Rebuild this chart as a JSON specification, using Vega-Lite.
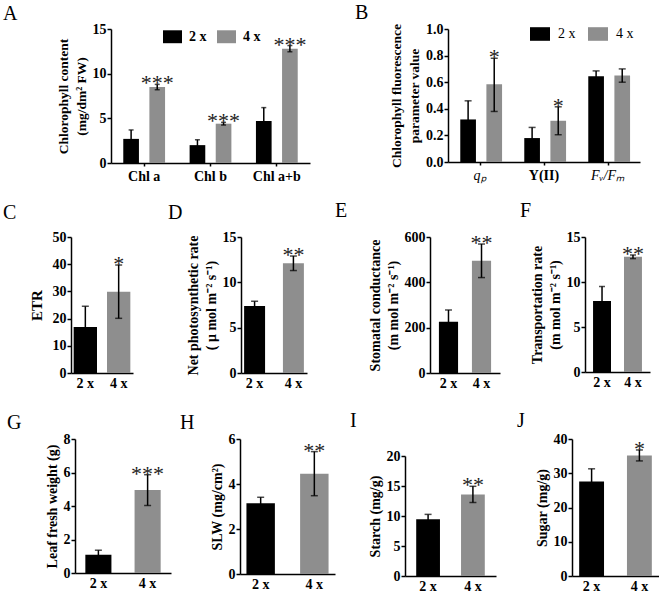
{
  "$schema": "https://vega.github.io/schema/vega-lite/v6.json",
  "padding": {"left": 2, "top": 3, "right": 0, "bottom": 0},
  "background": "white",
  "datasets": {
    "d": [
      {"panel": "A", "cat": "Chl a", "g": "2 x", "v": 2.7, "lo": 1.7, "hi": 3.7, "star": ""},
      {"panel": "A", "cat": "Chl a", "g": "4 x", "v": 8.5, "lo": 8.2, "hi": 8.8, "star": "***"},
      {"panel": "A", "cat": "Chl b", "g": "2 x", "v": 2.0, "lo": 1.4, "hi": 2.6, "star": ""},
      {"panel": "A", "cat": "Chl b", "g": "4 x", "v": 4.4, "lo": 4.25, "hi": 4.55, "star": "***"},
      {"panel": "A", "cat": "Chl a+b", "g": "2 x", "v": 4.7, "lo": 3.2, "hi": 6.2, "star": ""},
      {"panel": "A", "cat": "Chl a+b", "g": "4 x", "v": 12.8, "lo": 12.45, "hi": 13.15, "star": "***"},
      {"panel": "B", "cat": "qₚ", "g": "2 x", "v": 0.32, "lo": 0.18, "hi": 0.46, "star": ""},
      {"panel": "B", "cat": "qₚ", "g": "4 x", "v": 0.585, "lo": 0.38, "hi": 0.78, "star": "*"},
      {"panel": "B", "cat": "Y(II)", "g": "2 x", "v": 0.18, "lo": 0.1, "hi": 0.26, "star": ""},
      {"panel": "B", "cat": "Y(II)", "g": "4 x", "v": 0.31, "lo": 0.205, "hi": 0.415, "star": "*"},
      {"panel": "B", "cat": "Fᵥ/Fₘ", "g": "2 x", "v": 0.645, "lo": 0.605, "hi": 0.685, "star": ""},
      {"panel": "B", "cat": "Fᵥ/Fₘ", "g": "4 x", "v": 0.65, "lo": 0.6, "hi": 0.7, "star": ""},
      {"panel": "C", "g": "2 x", "v": 16.9, "lo": 9.3, "hi": 24.5, "star": ""},
      {"panel": "C", "g": "4 x", "v": 29.9, "lo": 20.1, "hi": 39.7, "star": "*"},
      {"panel": "D", "g": "2 x", "v": 7.4, "lo": 6.9, "hi": 7.9, "star": ""},
      {"panel": "D", "g": "4 x", "v": 12.1, "lo": 11.3, "hi": 12.9, "star": "**"},
      {"panel": "E", "g": "2 x", "v": 226, "lo": 174, "hi": 278, "star": ""},
      {"panel": "E", "g": "4 x", "v": 495, "lo": 421, "hi": 569, "star": "**"},
      {"panel": "F", "g": "2 x", "v": 7.9, "lo": 6.3, "hi": 9.5, "star": ""},
      {"panel": "F", "g": "4 x", "v": 12.8, "lo": 12.6, "hi": 13.0, "star": "**"},
      {"panel": "G", "g": "2 x", "v": 1.09, "lo": 0.82, "hi": 1.36, "star": ""},
      {"panel": "G", "g": "4 x", "v": 4.95, "lo": 4.03, "hi": 5.87, "star": "***"},
      {"panel": "H", "g": "2 x", "v": 3.15, "lo": 2.89, "hi": 3.41, "star": ""},
      {"panel": "H", "g": "4 x", "v": 4.46, "lo": 3.48, "hi": 5.44, "star": "**"},
      {"panel": "I", "g": "2 x", "v": 9.47, "lo": 8.67, "hi": 10.27, "star": ""},
      {"panel": "I", "g": "4 x", "v": 13.6, "lo": 12.25, "hi": 14.95, "star": "**"},
      {"panel": "J", "g": "2 x", "v": 27.6, "lo": 23.9, "hi": 31.3, "star": ""},
      {"panel": "J", "g": "4 x", "v": 35.2, "lo": 33.6, "hi": 36.8, "star": "*"}
    ]
  },
  "data": {"name": "d"},
  "config": {
    "font": "Liberation Serif",
    "view": {"stroke": null},
    "axis": {
      "grid": false,
      "domainColor": "#000", "domainWidth": 1.5,
      "tickColor": "#000", "tickWidth": 1.5,
      "labelFont": "Liberation Serif", "labelFontWeight": "bold", "labelFontSize": 14, "labelColor": "#000",
      "titleFont": "Liberation Serif", "titleFontWeight": "bold", "titleFontSize": 14, "titleColor": "#000"
    },
    "axisY": {"tickSize": 4, "labelPadding": 1, "titlePadding": 4, "titleLineHeight": 18, "labelOverlap": false, "labelFlush": false},
    "axisX": {"ticks": false, "labelAngle": 0, "labelPadding": 3, "title": null},
    "title": {"font": "Liberation Serif", "fontSize": 20, "fontWeight": "normal", "anchor": "start", "frame": "group", "color": "#000"},
    "legend": {"labelFont": "Liberation Serif", "labelColor": "#000", "labelFontSize": 14}
  },
  "columns": 1,
  "resolve": {"scale": {"color": "independent", "x": "independent", "y": "independent"}, "legend": {"color": "independent"}},
  "spacing": 18,
  "concat": [
    {
      "columns": 2, "spacing": 0,
      "resolve": {"scale": {"color": "independent"}, "legend": {"color": "independent"}},
      "concat": [
        {"width": 1, "height": 1, "data": {"values": []}, "mark": "point"},
        {
          "columns": 2,
          "spacing": 45,
          "resolve": {"scale": {"color": "independent"}, "legend": {"color": "independent"}},
          "concat": [
            {
              "width": 199, "height": 134,
              "title": {"text": "A", "dx": -108, "offset": -2},
              "transform": [{"filter": "datum.panel === 'A'"}],
              "encoding": {
                "x": {"field": "cat", "type": "nominal", "sort": ["Chl a", "Chl b", "Chl a+b"], "scale": {"paddingInner": 0, "paddingOuter": 0}, "axis": {"title": null, "ticks": true, "tickSize": 3}},
                "xOffset": {"field": "g", "type": "nominal", "sort": ["2 x", "4 x"], "scale": {"paddingInner": 0.4, "paddingOuter": 0.47}}
              },
              "layer": [
                {"mark": {"type": "bar"}, "encoding": {
                  "y": {"field": "v", "type": "quantitative", "scale": {"domain": [0, 15], "nice": false}, "axis": {"values": [0, 5, 10, 15], "title": ["Chlorophyll content", "(mg/dm² FW)"], "titleFontSize": 13.5}},
                  "color": {"field": "g", "type": "nominal", "scale": {"domain": ["2 x", "4 x"], "range": ["#000000", "#8e8e8e"]},
                    "legend": {"orient": "none", "legendX": 52, "legendY": -2, "direction": "horizontal", "title": null, "symbolType": "M-1,-0.68H1V0.68H-1Z", "symbolSize": 361, "symbolStrokeWidth": 0, "labelFontWeight": "bold", "labelOffset": 7, "columnPadding": 10}}
                }},
                {"mark": {"type": "rule", "color": "#000", "strokeWidth": 1.5}, "encoding": {"y": {"field": "lo", "type": "quantitative", "axis": {"values": [0, 5, 10, 15], "title": ["Chlorophyll content", "(mg/dm² FW)"], "titleFontSize": 13.5}}, "y2": {"field": "hi"}}},
                {"mark": {"type": "tick", "color": "#000", "size": 5, "thickness": 1.5}, "encoding": {"y": {"field": "hi", "type": "quantitative", "axis": {"values": [0, 5, 10, 15], "title": ["Chlorophyll content", "(mg/dm² FW)"], "titleFontSize": 13.5}}}},
                {"mark": {"type": "tick", "color": "#000", "size": 5, "thickness": 1.5}, "encoding": {"y": {"field": "lo", "type": "quantitative", "axis": {"values": [0, 5, 10, 15], "title": ["Chlorophyll content", "(mg/dm² FW)"], "titleFontSize": 13.5}}}},
                {"mark": {"type": "text", "fontSize": 22, "baseline": "alphabetic", "dy": 6, "fill": "#222", "color": "#222"}, "encoding": {"y": {"field": "hi", "type": "quantitative", "axis": {"values": [0, 5, 10, 15], "title": ["Chlorophyll content", "(mg/dm² FW)"], "titleFontSize": 13.5}}, "text": {"field": "star"}}}
              ]
            },
            {
              "width": 192, "height": 133,
              "title": {"text": "B", "dx": -93, "offset": -1},
              "transform": [{"filter": "datum.panel === 'B'"}],
              "encoding": {
                "x": {"field": "cat", "type": "nominal", "sort": ["qₚ", "Y(II)", "Fᵥ/Fₘ"], "scale": {"paddingInner": 0, "paddingOuter": 0},
                  "axis": {"title": null, "ticks": true, "tickSize": 3,
                    "labelFontStyle": {"condition": {"test": "datum.value === 'Y(II)'", "value": "normal"}, "value": "italic"},
                    "labelFontWeight": {"condition": {"test": "datum.value === 'Y(II)'", "value": "bold"}, "value": "normal"}}},
                "xOffset": {"field": "g", "type": "nominal", "sort": ["2 x", "4 x"], "scale": {"paddingInner": 0.27, "paddingOuter": 0.37}}
              },
              "layer": [
                {"mark": {"type": "bar"}, "encoding": {
                  "y": {"field": "v", "type": "quantitative", "scale": {"domain": [0, 1], "nice": false}, "axis": {"values": [0, 0.2, 0.4, 0.6, 0.8, 1.0], "format": ".1f", "title": ["Chlorophyll fluorescence", "parameter value"], "titleFontSize": 13.5}},
                  "color": {"field": "g", "type": "nominal", "scale": {"domain": ["2 x", "4 x"], "range": ["#000000", "#8e8e8e"]},
                    "legend": {"orient": "none", "legendX": 82, "legendY": -5, "direction": "horizontal", "title": null, "symbolType": "M-1,-0.68H1V0.68H-1Z", "symbolSize": 400, "symbolStrokeWidth": 0, "labelFontWeight": "normal", "labelOffset": 8, "columnPadding": 12}}
                }},
                {"mark": {"type": "rule", "color": "#000", "strokeWidth": 1.5}, "encoding": {"y": {"field": "lo", "type": "quantitative", "axis": {"values": [0, 0.2, 0.4, 0.6, 0.8, 1.0], "format": ".1f", "title": ["Chlorophyll fluorescence", "parameter value"], "titleFontSize": 13.5}}, "y2": {"field": "hi"}}},
                {"mark": {"type": "tick", "color": "#000", "size": 7, "thickness": 1.5}, "encoding": {"y": {"field": "hi", "type": "quantitative", "axis": {"values": [0, 0.2, 0.4, 0.6, 0.8, 1.0], "format": ".1f", "title": ["Chlorophyll fluorescence", "parameter value"], "titleFontSize": 13.5}}}},
                {"mark": {"type": "tick", "color": "#000", "size": 7, "thickness": 1.5}, "encoding": {"y": {"field": "lo", "type": "quantitative", "axis": {"values": [0, 0.2, 0.4, 0.6, 0.8, 1.0], "format": ".1f", "title": ["Chlorophyll fluorescence", "parameter value"], "titleFontSize": 13.5}}}},
                {"mark": {"type": "text", "fontSize": 22, "baseline": "alphabetic", "dy": 6, "fill": "#222", "color": "#222"}, "encoding": {"y": {"field": "hi", "type": "quantitative", "axis": {"values": [0, 0.2, 0.4, 0.6, 0.8, 1.0], "format": ".1f", "title": ["Chlorophyll fluorescence", "parameter value"], "titleFontSize": 13.5}}, "text": {"field": "star"}}}
              ]
            }
          ]
        }
      ]
    },
    {
      "columns": 1, "spacing": 21,
      "resolve": {"scale": {"color": "independent"}, "legend": {"color": "independent"}},
      "concat": [
        {
          "columns": 2, "spacing": 0,
          "resolve": {"scale": {"color": "independent"}, "legend": {"color": "independent"}},
          "concat": [
            {"width": 1, "height": 1, "data": {"values": []}, "mark": "point"},
            {
              "columns": 2,
              "spacing": 28,
              "resolve": {"scale": {"color": "independent"}, "legend": {"color": "independent"}},
              "concat": [
                {
                  "columns": 2,
                  "spacing": 35,
                  "resolve": {"scale": {"color": "independent"}, "legend": {"color": "independent"}},
                  "concat": [
                    {
                      "width": 62, "height": 136,
                      "title": {"text": "C", "dx": -68, "offset": 7},
                      "transform": [{"filter": "datum.panel === 'C'"}],
                      "encoding": {"x": {"field": "g", "type": "nominal", "sort": ["2 x", "4 x"], "scale": {"paddingInner": 0.3, "paddingOuter": 0.08}, "axis": {"title": null}}},
                      "layer": [
                        {"mark": {"type": "bar"}, "encoding": {
                          "y": {"field": "v", "type": "quantitative", "scale": {"domain": [0, 50], "nice": false}, "axis": {"values": [0, 10, 20, 30, 40, 50], "title": "ETR", "titleFontSize": 15, "titlePadding": 8}},
                          "color": {"field": "g", "type": "nominal", "scale": {"domain": ["2 x", "4 x"], "range": ["#000000", "#8e8e8e"]}, "legend": null}}},
                        {"mark": {"type": "rule", "color": "#000", "strokeWidth": 1.5}, "encoding": {"y": {"field": "lo", "type": "quantitative", "axis": {"values": [0, 10, 20, 30, 40, 50], "title": "ETR", "titleFontSize": 15, "titlePadding": 8}}, "y2": {"field": "hi"}}},
                        {"mark": {"type": "tick", "color": "#000", "size": 7, "thickness": 1.5}, "encoding": {"y": {"field": "hi", "type": "quantitative", "axis": {"values": [0, 10, 20, 30, 40, 50], "title": "ETR", "titleFontSize": 15, "titlePadding": 8}}}},
                        {"mark": {"type": "tick", "color": "#000", "size": 7, "thickness": 1.5}, "encoding": {"y": {"field": "lo", "type": "quantitative", "axis": {"values": [0, 10, 20, 30, 40, 50], "title": "ETR", "titleFontSize": 15, "titlePadding": 8}}}},
                        {"mark": {"type": "text", "fontSize": 22, "baseline": "alphabetic", "dy": 6, "fill": "#222", "color": "#222"}, "encoding": {"y": {"field": "hi", "type": "quantitative", "axis": {"values": [0, 10, 20, 30, 40, 50], "title": "ETR", "titleFontSize": 15, "titlePadding": 8}}, "text": {"field": "star"}}}
                      ]
                    },
                    {
                      "width": 66, "height": 136,
                      "title": {"text": "D", "dx": -73, "offset": 7},
                      "transform": [{"filter": "datum.panel === 'D'"}],
                      "encoding": {"x": {"field": "g", "type": "nominal", "sort": ["2 x", "4 x"], "scale": {"paddingInner": 0.46, "paddingOuter": 0.08}, "axis": {"title": null}}},
                      "layer": [
                        {"mark": {"type": "bar"}, "encoding": {
                          "y": {"field": "v", "type": "quantitative", "scale": {"domain": [0, 15], "nice": false}, "axis": {"values": [0, 5, 10, 15], "title": ["Net photosynthetic rate", "( μ mol m⁻² s⁻¹)"]}},
                          "color": {"field": "g", "type": "nominal", "scale": {"domain": ["2 x", "4 x"], "range": ["#000000", "#8e8e8e"]}, "legend": null}}},
                        {"mark": {"type": "rule", "color": "#000", "strokeWidth": 1.5}, "encoding": {"y": {"field": "lo", "type": "quantitative", "axis": {"values": [0, 5, 10, 15], "title": ["Net photosynthetic rate", "( μ mol m⁻² s⁻¹)"]}}, "y2": {"field": "hi"}}},
                        {"mark": {"type": "tick", "color": "#000", "size": 7, "thickness": 1.5}, "encoding": {"y": {"field": "hi", "type": "quantitative", "axis": {"values": [0, 5, 10, 15], "title": ["Net photosynthetic rate", "( μ mol m⁻² s⁻¹)"]}}}},
                        {"mark": {"type": "tick", "color": "#000", "size": 7, "thickness": 1.5}, "encoding": {"y": {"field": "lo", "type": "quantitative", "axis": {"values": [0, 5, 10, 15], "title": ["Net photosynthetic rate", "( μ mol m⁻² s⁻¹)"]}}}},
                        {"mark": {"type": "text", "fontSize": 22, "baseline": "alphabetic", "dy": 6, "fill": "#222", "color": "#222"}, "encoding": {"y": {"field": "hi", "type": "quantitative", "axis": {"values": [0, 5, 10, 15], "title": ["Net photosynthetic rate", "( μ mol m⁻² s⁻¹)"]}}, "text": {"field": "star"}}}
                      ]
                    }
                  ]
                },
                {
                  "columns": 2,
                  "spacing": 20,
                  "resolve": {"scale": {"color": "independent"}, "legend": {"color": "independent"}},
                  "concat": [
                    {
                      "width": 70, "height": 136,
                      "title": {"text": "E", "dx": -95, "offset": 9},
                      "transform": [{"filter": "datum.panel === 'E'"}],
                      "encoding": {"x": {"field": "g", "type": "nominal", "sort": ["2 x", "4 x"], "scale": {"paddingInner": 0.42, "paddingOuter": 0.27}, "axis": {"title": null}}},
                      "layer": [
                        {"mark": {"type": "bar"}, "encoding": {
                          "y": {"field": "v", "type": "quantitative", "scale": {"domain": [0, 600], "nice": false}, "axis": {"values": [0, 200, 400, 600], "title": ["Stomatal conductance", "(m mol m⁻² s⁻¹)"]}},
                          "color": {"field": "g", "type": "nominal", "scale": {"domain": ["2 x", "4 x"], "range": ["#000000", "#8e8e8e"]}, "legend": null}}},
                        {"mark": {"type": "rule", "color": "#000", "strokeWidth": 1.5}, "encoding": {"y": {"field": "lo", "type": "quantitative", "axis": {"values": [0, 200, 400, 600], "title": ["Stomatal conductance", "(m mol m⁻² s⁻¹)"]}}, "y2": {"field": "hi"}}},
                        {"mark": {"type": "tick", "color": "#000", "size": 7, "thickness": 1.5}, "encoding": {"y": {"field": "hi", "type": "quantitative", "axis": {"values": [0, 200, 400, 600], "title": ["Stomatal conductance", "(m mol m⁻² s⁻¹)"]}}}},
                        {"mark": {"type": "tick", "color": "#000", "size": 7, "thickness": 1.5}, "encoding": {"y": {"field": "lo", "type": "quantitative", "axis": {"values": [0, 200, 400, 600], "title": ["Stomatal conductance", "(m mol m⁻² s⁻¹)"]}}}},
                        {"mark": {"type": "text", "fontSize": 22, "baseline": "alphabetic", "dy": 6, "fill": "#222", "color": "#222"}, "encoding": {"y": {"field": "hi", "type": "quantitative", "axis": {"values": [0, 200, 400, 600], "title": ["Stomatal conductance", "(m mol m⁻² s⁻¹)"]}}, "text": {"field": "star"}}}
                      ]
                    },
                    {
                      "width": 65, "height": 135,
                      "title": {"text": "F", "dx": -65, "offset": 9},
                      "transform": [{"filter": "datum.panel === 'F'"}],
                      "encoding": {"x": {"field": "g", "type": "nominal", "sort": ["2 x", "4 x"], "scale": {"paddingInner": 0.42, "paddingOuter": 0.26}, "axis": {"title": null}}},
                      "layer": [
                        {"mark": {"type": "bar"}, "encoding": {
                          "y": {"field": "v", "type": "quantitative", "scale": {"domain": [0, 15], "nice": false}, "axis": {"values": [0, 5, 10, 15], "title": ["Transportation rate", "(m mol m⁻² s⁻¹)"]}},
                          "color": {"field": "g", "type": "nominal", "scale": {"domain": ["2 x", "4 x"], "range": ["#000000", "#8e8e8e"]}, "legend": null}}},
                        {"mark": {"type": "rule", "color": "#000", "strokeWidth": 1.5}, "encoding": {"y": {"field": "lo", "type": "quantitative", "axis": {"values": [0, 5, 10, 15], "title": ["Transportation rate", "(m mol m⁻² s⁻¹)"]}}, "y2": {"field": "hi"}}},
                        {"mark": {"type": "tick", "color": "#000", "size": 6, "thickness": 1.5}, "encoding": {"y": {"field": "hi", "type": "quantitative", "axis": {"values": [0, 5, 10, 15], "title": ["Transportation rate", "(m mol m⁻² s⁻¹)"]}}}},
                        {"mark": {"type": "tick", "color": "#000", "size": 6, "thickness": 1.5}, "encoding": {"y": {"field": "lo", "type": "quantitative", "axis": {"values": [0, 5, 10, 15], "title": ["Transportation rate", "(m mol m⁻² s⁻¹)"]}}}},
                        {"mark": {"type": "text", "fontSize": 22, "baseline": "alphabetic", "dy": 6, "fill": "#222", "color": "#222"}, "encoding": {"y": {"field": "hi", "type": "quantitative", "axis": {"values": [0, 5, 10, 15], "title": ["Transportation rate", "(m mol m⁻² s⁻¹)"]}}, "text": {"field": "star"}}}
                      ]
                    }
                  ]
                }
              ]
            }
          ]
        },
        {
          "columns": 2, "spacing": 4,
          "resolve": {"scale": {"color": "independent"}, "legend": {"color": "independent"}},
          "concat": [
            {"width": 1, "height": 1, "data": {"values": []}, "mark": "point"},
            {
              "columns": 2,
              "spacing": 15,
              "resolve": {"scale": {"color": "independent"}, "legend": {"color": "independent"}},
              "concat": [
                {
                  "columns": 2,
                  "spacing": 9,
                  "resolve": {"scale": {"color": "independent"}, "legend": {"color": "independent"}},
                  "concat": [
                    {
                      "width": 96, "height": 134,
                      "title": {"text": "G", "dx": -68, "offset": -1},
                      "transform": [{"filter": "datum.panel === 'G'"}],
                      "encoding": {"x": {"field": "g", "type": "nominal", "sort": ["2 x", "4 x"], "scale": {"paddingInner": 0.47, "paddingOuter": 0.21}, "axis": {"title": null}}},
                      "layer": [
                        {"mark": {"type": "bar"}, "encoding": {
                          "y": {"field": "v", "type": "quantitative", "scale": {"domain": [0, 8], "nice": false}, "axis": {"values": [0, 2, 4, 6, 8], "title": "Leaf fresh weight (g)"}},
                          "color": {"field": "g", "type": "nominal", "scale": {"domain": ["2 x", "4 x"], "range": ["#000000", "#8e8e8e"]}, "legend": null}}},
                        {"mark": {"type": "rule", "color": "#000", "strokeWidth": 1.5}, "encoding": {"y": {"field": "lo", "type": "quantitative", "axis": {"values": [0, 2, 4, 6, 8], "title": "Leaf fresh weight (g)"}}, "y2": {"field": "hi"}}},
                        {"mark": {"type": "tick", "color": "#000", "size": 7, "thickness": 1.5}, "encoding": {"y": {"field": "hi", "type": "quantitative", "axis": {"values": [0, 2, 4, 6, 8], "title": "Leaf fresh weight (g)"}}}},
                        {"mark": {"type": "tick", "color": "#000", "size": 7, "thickness": 1.5}, "encoding": {"y": {"field": "lo", "type": "quantitative", "axis": {"values": [0, 2, 4, 6, 8], "title": "Leaf fresh weight (g)"}}}},
                        {"mark": {"type": "text", "fontSize": 22, "baseline": "alphabetic", "dy": 6, "fill": "#222", "color": "#222"}, "encoding": {"y": {"field": "hi", "type": "quantitative", "axis": {"values": [0, 2, 4, 6, 8], "title": "Leaf fresh weight (g)"}}, "text": {"field": "star"}}}
                      ]
                    },
                    {
                      "width": 95, "height": 135,
                      "title": {"text": "H", "dx": -60, "offset": -1},
                      "transform": [{"filter": "datum.panel === 'H'"}],
                      "encoding": {"x": {"field": "g", "type": "nominal", "sort": ["2 x", "4 x"], "scale": {"paddingInner": 0.47, "paddingOuter": 0.12}, "axis": {"title": null}}},
                      "layer": [
                        {"mark": {"type": "bar"}, "encoding": {
                          "y": {"field": "v", "type": "quantitative", "scale": {"domain": [0, 6], "nice": false}, "axis": {"values": [0, 2, 4, 6], "title": "SLW (mg/cm²)"}},
                          "color": {"field": "g", "type": "nominal", "scale": {"domain": ["2 x", "4 x"], "range": ["#000000", "#8e8e8e"]}, "legend": null}}},
                        {"mark": {"type": "rule", "color": "#000", "strokeWidth": 1.5}, "encoding": {"y": {"field": "lo", "type": "quantitative", "axis": {"values": [0, 2, 4, 6], "title": "SLW (mg/cm²)"}}, "y2": {"field": "hi"}}},
                        {"mark": {"type": "tick", "color": "#000", "size": 7, "thickness": 1.5}, "encoding": {"y": {"field": "hi", "type": "quantitative", "axis": {"values": [0, 2, 4, 6], "title": "SLW (mg/cm²)"}}}},
                        {"mark": {"type": "tick", "color": "#000", "size": 7, "thickness": 1.5}, "encoding": {"y": {"field": "lo", "type": "quantitative", "axis": {"values": [0, 2, 4, 6], "title": "SLW (mg/cm²)"}}}},
                        {"mark": {"type": "text", "fontSize": 22, "baseline": "alphabetic", "dy": 6, "fill": "#222", "color": "#222"}, "encoding": {"y": {"field": "hi", "type": "quantitative", "axis": {"values": [0, 2, 4, 6], "title": "SLW (mg/cm²)"}}, "text": {"field": "star"}}}
                      ]
                    }
                  ]
                },
                {
                  "columns": 2,
                  "spacing": 21,
                  "resolve": {"scale": {"color": "independent"}, "legend": {"color": "independent"}},
                  "concat": [
                    {
                      "columns": 1,
                      "spacing": 9,
                      "resolve": {"scale": {"color": "independent"}, "legend": {"color": "independent"}},
                      "concat": [
                        {"width": 91, "height": 1, "data": {"values": []}, "mark": "point", "title": {"text": "I", "dx": -55, "offset": 8}},
                        {
                          "width": 91, "height": 120,
                          "transform": [{"filter": "datum.panel === 'I'"}],
                          "encoding": {"x": {"field": "g", "type": "nominal", "sort": ["2 x", "4 x"], "scale": {"paddingInner": 0.47, "paddingOuter": 0.25}, "axis": {"title": null}}},
                          "layer": [
                            {"mark": {"type": "bar"}, "encoding": {
                              "y": {"field": "v", "type": "quantitative", "scale": {"domain": [0, 20], "nice": false}, "axis": {"values": [0, 5, 10, 15, 20], "title": "Starch (mg/g)"}},
                              "color": {"field": "g", "type": "nominal", "scale": {"domain": ["2 x", "4 x"], "range": ["#000000", "#8e8e8e"]}, "legend": null}}},
                            {"mark": {"type": "rule", "color": "#000", "strokeWidth": 1.5}, "encoding": {"y": {"field": "lo", "type": "quantitative", "axis": {"values": [0, 5, 10, 15, 20], "title": "Starch (mg/g)"}}, "y2": {"field": "hi"}}},
                            {"mark": {"type": "tick", "color": "#000", "size": 7, "thickness": 1.5}, "encoding": {"y": {"field": "hi", "type": "quantitative", "axis": {"values": [0, 5, 10, 15, 20], "title": "Starch (mg/g)"}}}},
                            {"mark": {"type": "tick", "color": "#000", "size": 7, "thickness": 1.5}, "encoding": {"y": {"field": "lo", "type": "quantitative", "axis": {"values": [0, 5, 10, 15, 20], "title": "Starch (mg/g)"}}}},
                            {"mark": {"type": "text", "fontSize": 22, "baseline": "alphabetic", "dy": 6, "fill": "#222", "color": "#222"}, "encoding": {"y": {"field": "hi", "type": "quantitative", "axis": {"values": [0, 5, 10, 15, 20], "title": "Starch (mg/g)"}}, "text": {"field": "star"}}}
                          ]
                        }
                      ]
                    },
                    {
                      "width": 87, "height": 137,
                      "title": {"text": "J", "dx": -55, "offset": 1},
                      "transform": [{"filter": "datum.panel === 'J'"}],
                      "encoding": {"x": {"field": "g", "type": "nominal", "sort": ["2 x", "4 x"], "scale": {"paddingInner": 0.48, "paddingOuter": 0.15}, "axis": {"title": null}}},
                      "layer": [
                        {"mark": {"type": "bar"}, "encoding": {
                          "y": {"field": "v", "type": "quantitative", "scale": {"domain": [0, 40], "nice": false}, "axis": {"values": [0, 10, 20, 30, 40], "title": "Sugar  (mg/g)"}},
                          "color": {"field": "g", "type": "nominal", "scale": {"domain": ["2 x", "4 x"], "range": ["#000000", "#8e8e8e"]}, "legend": null}}},
                        {"mark": {"type": "rule", "color": "#000", "strokeWidth": 1.5}, "encoding": {"y": {"field": "lo", "type": "quantitative", "axis": {"values": [0, 10, 20, 30, 40], "title": "Sugar  (mg/g)"}}, "y2": {"field": "hi"}}},
                        {"mark": {"type": "tick", "color": "#000", "size": 7, "thickness": 1.5}, "encoding": {"y": {"field": "hi", "type": "quantitative", "axis": {"values": [0, 10, 20, 30, 40], "title": "Sugar  (mg/g)"}}}},
                        {"mark": {"type": "tick", "color": "#000", "size": 7, "thickness": 1.5}, "encoding": {"y": {"field": "lo", "type": "quantitative", "axis": {"values": [0, 10, 20, 30, 40], "title": "Sugar  (mg/g)"}}}},
                        {"mark": {"type": "text", "fontSize": 22, "baseline": "alphabetic", "dy": 6, "fill": "#222", "color": "#222"}, "encoding": {"y": {"field": "hi", "type": "quantitative", "axis": {"values": [0, 10, 20, 30, 40], "title": "Sugar  (mg/g)"}}, "text": {"field": "star"}}}
                      ]
                    }
                  ]
                }
              ]
            }
          ]
        }
      ]
    }
  ]
}
